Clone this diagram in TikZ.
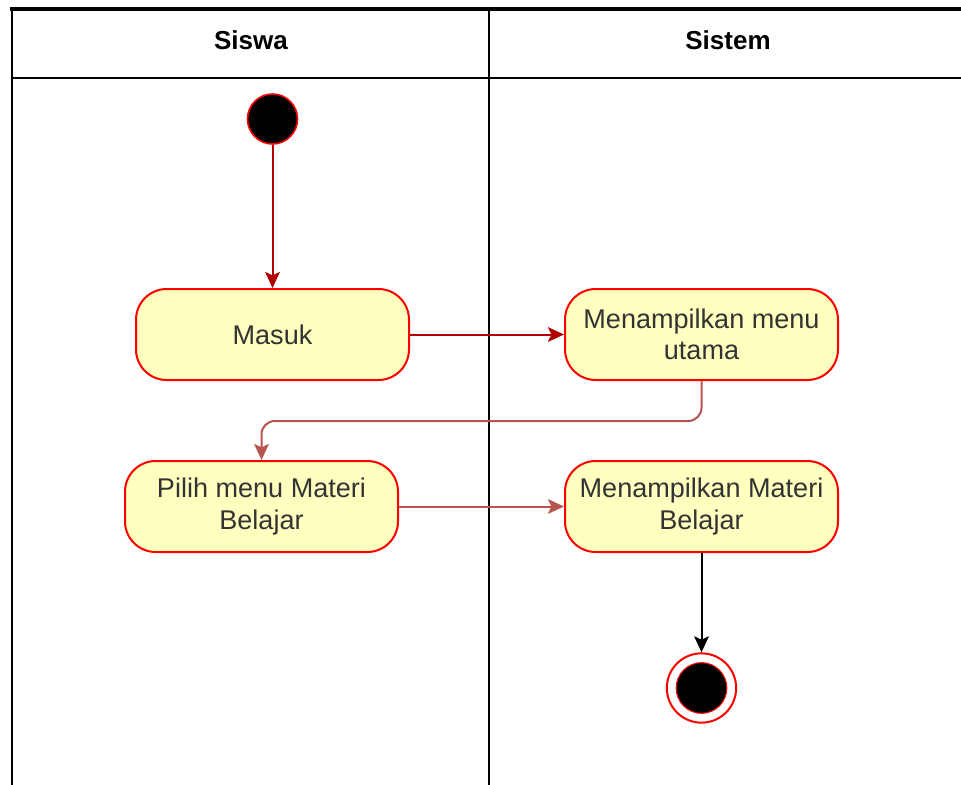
\documentclass[tikz,border=0pt]{standalone}
\usepackage{fontspec}
\setmainfont{Liberation Sans}
\usetikzlibrary{arrows.meta}

\definecolor{actfill}{HTML}{FFFFC0}
\definecolor{actline}{HTML}{FF0000}
\definecolor{flowdark}{HTML}{B20000}
\definecolor{flowsoft}{HTML}{B85450}
\definecolor{txt}{HTML}{333333}

\tikzset{
  lane/.style={line width=1.8pt, black},
  topbar/.style={line width=3.4pt, black},
  action/.style={draw=actline, fill=actfill, line width=1.5pt,
    rounded corners=23pt, minimum width=204.75pt, minimum height=68.25pt,
    align=center, text=txt, font=\fontsize{20.3}{23.5}\selectfont, inner sep=0pt},
  startnode/.style={circle, draw=actline, fill=black, line width=1.2pt,
    minimum size=37.5pt, inner sep=0pt},
  endring/.style={circle, draw=actline, fill=white, line width=1.5pt,
    minimum size=52pt, inner sep=0pt},
  endcore/.style={circle, draw=actline, fill=black, line width=0.8pt,
    minimum size=38pt, inner sep=0pt},
  head/.style={font=\bfseries\fontsize{19.5}{23}\selectfont, text=black},
  flow/.style={line width=1.5pt,
    -{Stealth[length=12pt, width=11pt, inset=2.5pt]}},
}

\begin{document}
\begin{tikzpicture}[x=0.75pt, y=-0.75pt]
  \useasboundingbox (0,0) rectangle (961,785);

  % swimlane frame
  \draw[lane] (12,9) -- (12,785);
  \draw[lane] (489,9) -- (489,785);
  \draw[lane] (12,78) -- (961,78);
  \draw[topbar] (10,9) -- (961,9);

  % lane headers
  \node[head] (hsiswa) at (251,40) {Siswa};
  \node[head] (hsistem) at (728,40) {Sistem};

  % activities
  \node[startnode] (start) at (272.5,119) {};
  \node[action] (masuk) at (272.5,334.5) {Masuk};
  \node[action] (menu) at (701.5,334.5) {Menampilkan menu\\utama};
  \node[action] (pilih) at (261.5,506.5) {Pilih menu Materi\\Belajar};
  \node[action] (materi) at (701.5,506.5) {Menampilkan Materi\\Belajar};
  \node[endring] (endo) at (701.5,688) {};
  \node[endcore] (endi) at (701.5,688) {};

  % control flow
  \draw[flow, flowdark] (start) -- (masuk);
  \draw[flow, flowdark] (masuk) -- (menu);
  \draw[flow, flowsoft, rounded corners=10pt]
    (menu.south) -- (701.5,421) -- (261.5,421) -- (pilih.north);
  \draw[flow, flowsoft] (pilih) -- (materi);
  \draw[flow, black] (materi) -- (endo);
\end{tikzpicture}
\end{document}
